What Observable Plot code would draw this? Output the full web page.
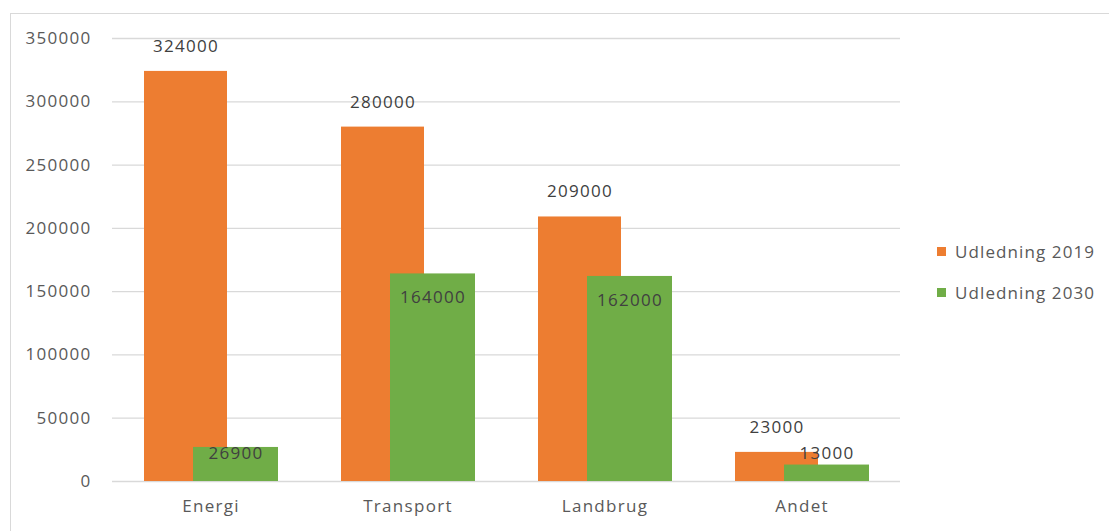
<!DOCTYPE html>
<html>
<head>
<meta charset="utf-8">
<script src="https://cdn.jsdelivr.net/npm/d3@7"></script>
<script src="https://cdn.jsdelivr.net/npm/@observablehq/plot@0.6"></script>
<style>
  html, body { margin: 0; padding: 0; background: #fff; }
  #wrap { position: relative; width: 1109px; height: 531px; overflow: hidden; font-family: "Open Sans", sans-serif; }
  #frame { position: absolute; left: 10px; top: 13px; width: 1200px; height: 600px; border-left: 1px solid #d9d9d9; border-top: 1px solid #d9d9d9; }
  #chart { position: absolute; left: 0; top: 0; }
  #chart svg text { letter-spacing: 1.3px; }
  #legend { position: absolute; left: 937px; top: 231px; color: #595959; font-size: 17px; letter-spacing: 1.1px; }
  .item { display: flex; align-items: center; height: 41px; }
  .sw { width: 9px; height: 9px; margin-right: 9px; }
</style>
</head>
<body>
<div id="wrap">
  <div id="frame"></div>
  <div id="chart"></div>
  <div id="legend"></div>
</div>
<script>
const categories = ["Energi", "Transport", "Landbrug", "Andet"];
const series = ["Udledning 2019", "Udledning 2030"];
const values2019 = [324000, 280000, 209000, 23000];
const values2030 = [26900, 164000, 162000, 13000];
const yTicks = [0, 50000, 100000, 150000, 200000, 250000, 300000, 350000];
const colors = ["#ED7D31", "#70AD47"];

const d2019 = categories.map((c, i) => ({cat: c, value: values2019[i]}));
const d2030 = categories.map((c, i) => ({cat: c, value: values2030[i]}));

const textColor = "#595959";
const font = "Open Sans";

const chart = Plot.plot({
  width: 1109,
  height: 531,
  marginLeft: 112,
  marginRight: 209,
  marginTop: 38,
  marginBottom: 50,
  style: {background: "transparent", fontFamily: font, fontSize: "17px", color: textColor},
  x: {domain: categories, padding: 0, label: null},
  y: {domain: [0, 350000], ticks: yTicks, label: null, grid: false},
  marks: [
    Plot.ruleY(yTicks, {stroke: "#d9d9d9", strokeWidth: 1.3}),
    Plot.axisY({ticks: yTicks, tickSize: 0, tickPadding: 21, tickFormat: d => String(d), fill: textColor, fontSize: 17, label: null}),
    Plot.axisX({tickSize: 0, tickPadding: 18, fill: textColor, fontSize: 17, label: null}),
    Plot.barY(d2019, {x: "cat", y: "value", fill: colors[0], insetLeft: 32, insetRight: 82}),
    Plot.barY(d2030, {x: "cat", y: "value", fill: colors[1], insetLeft: 81, insetRight: 31}),
    Plot.text(d2019, {x: "cat", y: "value", text: d => String(d.value), dx: -25, dy: -25, fill: "#404040", fontSize: 17}),
    Plot.text(d2030.filter(d => d.value >= 50000), {x: "cat", y: "value", text: d => String(d.value), dx: 25, dy: 24, fill: "#404040", fontSize: 17}),
    Plot.text(d2030.filter(d => d.value < 50000), {x: "cat", frameAnchor: "bottom", text: d => String(d.value), dx: 25, dy: -23, fill: "#404040", fontSize: 17})
  ]
});
document.getElementById("chart").appendChild(chart);

const legend = document.getElementById("legend");
series.forEach((s, i) => {
  const item = document.createElement("div");
  item.className = "item";
  const sw = document.createElement("span");
  sw.className = "sw";
  sw.style.background = colors[i];
  const lab = document.createElement("span");
  lab.textContent = s;
  item.appendChild(sw);
  item.appendChild(lab);
  legend.appendChild(item);
});
</script>
</body>
</html>
